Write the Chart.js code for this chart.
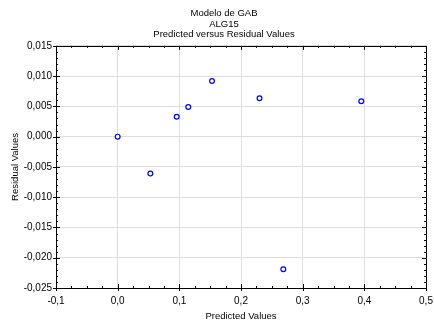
<!DOCTYPE html>
<html>
<head>
<meta charset="utf-8">
<script src="https://cdn.jsdelivr.net/npm/chart.js@4"></script>
<style>
  html, body { margin: 0; padding: 0; background: #fff; }
  #wrap { width: 434px; height: 323px; }
</style>
</head>
<body>
<div id="wrap"><canvas id="residChart" width="434" height="323"></canvas></div>
<script>
const titleLines = ["Modelo de GAB", "ALG15", "Predicted versus Residual Values"];
const predicted = [0.0, 0.053, 0.0957, 0.1145, 0.153, 0.230, 0.2686, 0.395];
const residual = [0.0, -0.0061, 0.0033, 0.0049, 0.0092, 0.00635, -0.0219, 0.00586];
const xRange = [-0.1, 0.5];
const yRange = [-0.025, 0.015];

const points = predicted.map((x, i) => ({ x: x, y: residual[i] }));

function comma(v, digits) {
    return v.toFixed(digits).replace(".", ",");
}

// frame on all four sides plus minor/major ticks pointing inward
const frameTicks = {
    id: "frameTicks",
    afterDraw(chart) {
        const ctx = chart.ctx;
        const a = chart.chartArea;
        const xs = chart.scales.x, ys = chart.scales.y;
        ctx.save();
        ctx.strokeStyle = "#000";
        ctx.lineWidth = 1;
        ctx.beginPath();
        // x ticks every 0.025, major every 0.1
        for (let i = 0; i <= 24; i++) {
            const v = xRange[0] + i * 0.025;
            const px = Math.round(xs.getPixelForValue(v)) + 0.5;
            const major = i % 4 === 0;
            const len = major ? 4 : 2;
            ctx.moveTo(px, a.bottom + (major ? 3 : 0));
            ctx.lineTo(px, a.bottom - len);
            ctx.moveTo(px, a.top);
            ctx.lineTo(px, a.top + len);
        }
        // y ticks every 0.001, major every 0.005
        for (let i = 0; i <= 40; i++) {
            const v = yRange[0] + i * 0.001;
            const py = Math.round(ys.getPixelForValue(v)) + 0.5;
            const major = i % 5 === 0;
            const len = major ? 4 : 2;
            ctx.moveTo(a.left - (major ? 3 : 0), py);
            ctx.lineTo(a.left + len, py);
            ctx.moveTo(a.right, py);
            ctx.lineTo(a.right - len, py);
        }
        ctx.stroke();
        ctx.strokeRect(Math.round(a.left) + 0.5, Math.round(a.top) + 0.5,
            Math.round(a.right - a.left), Math.round(a.bottom - a.top));
        ctx.restore();
    }
};

const fontBase = { family: "'Liberation Sans', Arial, sans-serif", size: 10 };
const fontTitle = { family: "'Liberation Sans', Arial, sans-serif", size: 9.5, lineHeight: 1.1 };

new Chart(document.getElementById("residChart"), {
    type: "scatter",
    data: {
        datasets: [{
            label: "Residuals",
            data: points,
            pointStyle: "circle",
            pointRadius: 2.4,
            pointBorderWidth: 1.2,
            pointBorderColor: "#0000ff",
            pointBackgroundColor: "#ffffff",
            showLine: false
        }]
    },
    options: {
        responsive: false,
        animation: false,
        devicePixelRatio: 1,
        layout: { padding: { left: 14, right: 0, top: 0, bottom: 0 } },
        plugins: {
            legend: { display: false },
            tooltip: { enabled: false },
            title: {
                display: true,
                text: titleLines,
                color: "#000",
                font: { ...fontTitle, weight: "normal" },
                padding: { top: 8.5, bottom: 6 }
            }
        },
        scales: {
            x: {
                type: "linear",
                min: xRange[0],
                max: xRange[1],
                afterFit(scale) {
                    scale.height = 35;
                    scale.paddingLeft = 0;
                    scale.paddingRight = 8;
                },
                ticks: {
                    stepSize: 0.1,
                    color: "#000",
                    font: fontBase,
                    padding: 7,
                    maxRotation: 0,
                    callback: v => comma(Math.round(v * 10) / 10, 1)
                },
                grid: { color: "#dedede", lineWidth: 1, drawTicks: false },
                border: { display: false },
                title: {
                    display: true,
                    text: "Predicted Values",
                    color: "#000",
                    font: fontTitle,
                    padding: { top: 0, bottom: 1 }
                }
            },
            y: {
                type: "linear",
                min: yRange[0],
                max: yRange[1],
                afterFit(scale) { scale.width = 42; },
                ticks: {
                    stepSize: 0.005,
                    color: "#000",
                    font: fontBase,
                    padding: 4,
                    callback: v => comma(Math.round(v * 1000) / 1000, 3)
                },
                grid: { color: "#dedede", lineWidth: 1, drawTicks: false },
                border: { display: false },
                title: {
                    display: true,
                    text: "Residual Values",
                    color: "#000",
                    font: fontTitle,
                    padding: { top: -4, bottom: 0 }
                }
            }
        }
    },
    plugins: [frameTicks]
});
</script>
</body>
</html>
